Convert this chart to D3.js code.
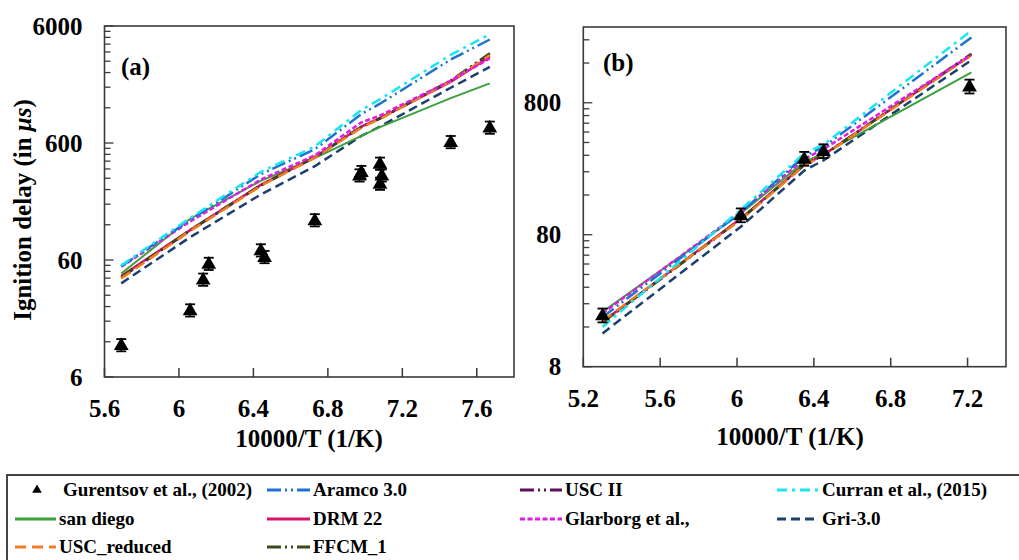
<!DOCTYPE html>
<html><head><meta charset="utf-8">
<script src="https://cdn.jsdelivr.net/npm/d3@7"></script>
<style>
body{margin:0;background:#fff}
svg{display:block}
text{font-family:"Liberation Serif","Times New Roman",serif;font-weight:bold;fill:#000}
</style>
</head><body>
<svg id="c" width="1019" height="560"></svg>
<script>
// ---------- DATA ----------
const seriesNames = ["Aramco 3.0","USC II","Curran et al., (2015)","san diego","DRM 22","Glarborg et al.,","Gri-3.0","USC_reduced","FFCM_1"];
const expName = "Gurentsov et al., (2002)";

// Panel (a)
const expA_x = [5.69,6.06,6.13,6.16,6.44,6.46,6.73,6.97,6.98,7.08,7.09,7.08,7.46,7.67];
const expA_y = [11.3,22.4,41,56,73,64,132,319,341,402,319,271,615,817];
const simA_x = [5.69,6.06,6.44,6.73,6.98,7.08,7.46,7.67];
const aramcoA   = [53,132,325,530,1060,1300,3100,4600];
const uscIIA    = [42.5,107,260,452,820,970,2040,3480];
const curranA   = [54,137,340,560,1150,1420,3400,5100];
const sandiegoA = [46,135,285,445,690,820,1450,1940];
const drmA      = [43.8,108,263,455,830,980,2000,3280];
const glarborgA = [52.5,128,292,470,900,1030,2050,3170];
const griA      = [37.9,94,218,380,690,830,1780,2680];
const uscRedA   = [41.8,106,258,450,810,965,2020,3380];
const ffcmA     = [43,108,262,455,825,975,2050,3500];

// Panel (b)
const expB_x = [5.30,6.02,6.35,6.45,7.21];
const expB_y = [19.7,113,303,346,1069];
const simB_x = [5.30,6.02,6.35,6.45,7.22];
const aramcoB   = [19,118,315,370,2500];
const uscIIB    = [17.4,105,270,321,1870];
const curranB   = [16,124,330,385,2820];
const sandiegoB = [20.8,116,285,330,1360];
const drmB      = [17.5,106,272,322,1850];
const glarborgB = [20.3,119,300,355,1850];
const griB      = [14.3,92,245,293,1680];
const uscRedB   = [17.8,104,268,318,1830];
const ffcmB     = [17.3,105,270,320,1880];

// Axis ticks
const xTicksA = [5.6,6,6.4,6.8,7.2,7.6];
const yTicksA = [6,60,600,6000];
const xTicksB = [5.2,5.6,6,6.4,6.8,7.2];
const yTicksB = [8,80,800];
const xTitle = "10000/T (1/K)";

// ---------- STYLES ----------
const styles = {
  "Aramco 3.0":           {color:"#1e73d2", dash:"14,4,2,4,2,4", w:2.5},
  "USC II":               {color:"#5a0f5f", dash:"14,4,2,4,2,4", w:2.5},
  "Curran et al., (2015)":{color:"#17e6f0", dash:"10,5,3,5", w:2.5},
  "san diego":            {color:"#3ca03c", dash:null, w:2},
  "DRM 22":               {color:"#d7136e", dash:null, w:2.5},
  "Glarborg et al.,":     {color:"#e11ae6", dash:"5,2.5", w:2.5},
  "Gri-3.0":              {color:"#1b3f6e", dash:"9,5", w:2.5},
  "USC_reduced":          {color:"#f07c23", dash:"11,6", w:2.5},
  "FFCM_1":               {color:"#3a4a1c", dash:"14,4,2,4,2,4", w:2.5}
};
const drawOrder = ["Gri-3.0","san diego","DRM 22","USC II","FFCM_1","USC_reduced","Glarborg et al.,","Aramco 3.0","Curran et al., (2015)"];

const svg = d3.select("#c");

function panel(cfg){
  const {x,y,xTicks,yTicks,simX,sims,expX,expY,label,labelPos,minorBase,xTitleX} = cfg;
  const [x0,x1] = x.range(), [y0,y1] = y.range();
  const g = svg.append("g");
  // frame
  g.append("rect").attr("x",x0).attr("y",y1).attr("width",x1-x0).attr("height",y0-y1)
    .attr("fill","none").attr("stroke","#3a3a3a").attr("stroke-width",1.6);
  // x ticks (inside)
  xTicks.forEach(t=>{
    g.append("line").attr("x1",x(t)).attr("x2",x(t)).attr("y1",y0).attr("y2",y0-9)
      .attr("stroke","#3a3a3a").attr("stroke-width",1.5);
    g.append("text").attr("x",x(t)).attr("y",y0+40).attr("text-anchor","middle")
      .attr("font-size",25).text(d3.format("")(t));
  });
  // y ticks major + minor
  const [dmin,dmax] = y.domain();
  for(let dec=dmin; dec<dmax*1.0001; dec*=10){
    for(let k=1;k<=9;k++){
      const v = dec*k;
      if(v>dmax*1.0001) break;
      const major = k===1;
      g.append("line").attr("x1",x0).attr("x2",x0+(major?9:6)).attr("y1",y(v)).attr("y2",y(v))
        .attr("stroke","#3a3a3a").attr("stroke-width",1.3);
    }
  }
  yTicks.forEach(t=>{
    g.append("text").attr("x",x0-22).attr("y",y(t)).attr("dy","0.34em").attr("text-anchor","end")
      .attr("font-size",25).text(t);
  });
  // lines
  const line = d3.line().x((d)=>x(d[0])).y((d)=>y(d[1]));
  drawOrder.forEach(name=>{
    const st = styles[name];
    const pts = simX.map((xv,i)=>[xv, sims[name][i]]);
    g.append("path").attr("d",line(pts)).attr("fill","none")
      .attr("stroke",st.color).attr("stroke-width",st.w)
      .attr("stroke-dasharray",st.dash).attr("stroke-linecap","butt");
  });
  // experimental points with error bars
  const tri = d3.symbol().type(d3.symbolTriangle).size(95);
  expX.forEach((xv,i)=>{
    const v = expY[i];
    const px = x(xv), lo = y(v*0.88), hi = y(v*1.12);
    g.append("line").attr("x1",px).attr("x2",px).attr("y1",lo).attr("y2",hi).attr("stroke","#000").attr("stroke-width",1.5);
    [lo,hi].forEach(yy=>g.append("line").attr("x1",px-5).attr("x2",px+5).attr("y1",yy).attr("y2",yy).attr("stroke","#000").attr("stroke-width",1.8));
    g.append("path").attr("d",tri()).attr("transform",`translate(${px},${y(v)+1})`).attr("fill","#000");
  });
  // panel label
  g.append("text").attr("x",labelPos[0]).attr("y",labelPos[1]).attr("font-size",25).text(label);
  // x title
  g.append("text").attr("x",xTitleX).attr("y",cfg.xTitleY).attr("text-anchor","middle").attr("font-size",25).text(xTitle);
}

const simsA = {"Aramco 3.0":aramcoA,"USC II":uscIIA,"Curran et al., (2015)":curranA,"san diego":sandiegoA,
  "DRM 22":drmA,"Glarborg et al.,":glarborgA,"Gri-3.0":griA,"USC_reduced":uscRedA,"FFCM_1":ffcmA};
const simsB = {"Aramco 3.0":aramcoB,"USC II":uscIIB,"Curran et al., (2015)":curranB,"san diego":sandiegoB,
  "DRM 22":drmB,"Glarborg et al.,":glarborgB,"Gri-3.0":griB,"USC_reduced":uscRedB,"FFCM_1":ffcmB};

panel({
  x: d3.scaleLinear().domain([5.6,7.8]).range([104.5,514]),
  y: d3.scaleLog().domain([6,6000]).range([377,26]),
  xTicks:xTicksA, yTicks:yTicksA, simX:simA_x, sims:simsA, expX:expA_x, expY:expA_y,
  label:"(a)", labelPos:[121,75], xTitleX:309, xTitleY:447
});
panel({
  x: d3.scaleLinear().domain([5.2,7.4]).range([583.3,1006]),
  y: d3.scaleLog().domain([8,3000]).range([366.7,27]),
  xTicks:xTicksB, yTicks:yTicksB, simX:simB_x, sims:simsB, expX:expB_x, expY:expB_y,
  label:"(b)", labelPos:[603,71], xTitleX:790, xTitleY:445
});

// y axis title
svg.append("text").attr("transform","translate(31,210) rotate(-90)").attr("text-anchor","middle")
  .attr("font-size",25)
  .call(t=>{ t.append("tspan").text("Ignition delay (in ");
             t.append("tspan").attr("font-style","italic").text("μs");
             t.append("tspan").text(")"); });

// ---------- LEGEND ----------
const lg = svg.append("g");
lg.append("rect").attr("x",7).attr("y",475).attr("width",1030).attr("height",120)
  .attr("fill","none").attr("stroke","#444").attr("stroke-width",2);
const rows = [490,519,547];
const legendItems = [
  {name:expName, col:0, row:0, marker:true},
  {name:"Aramco 3.0", col:1, row:0},
  {name:"USC II", col:2, row:0},
  {name:"Curran et al., (2015)", col:3, row:0},
  {name:"san diego", col:0, row:1},
  {name:"DRM 22", col:1, row:1},
  {name:"Glarborg et al.,", col:2, row:1},
  {name:"Gri-3.0", col:3, row:1},
  {name:"USC_reduced", col:0, row:2},
  {name:"FFCM_1", col:1, row:2}
];
const colLine = [[15,56],[267,310],[520,562],[777,819]];
legendItems.forEach(it=>{
  const yy = rows[it.row];
  if(it.marker){
    lg.append("path").attr("d",d3.symbol().type(d3.symbolTriangle).size(40)()).attr("transform",`translate(37,${yy})`).attr("fill","#000");
    lg.append("text").attr("x",63).attr("y",yy+6).attr("font-size",19).text(it.name);
  } else {
    const st = styles[it.name];
    const [a,b] = colLine[it.col];
    lg.append("line").attr("x1",a).attr("x2",b).attr("y1",yy).attr("y2",yy)
      .attr("stroke",st.color).attr("stroke-width",3).attr("stroke-dasharray",st.dash);
    lg.append("text").attr("x",b+3).attr("y",yy+6).attr("font-size",19).text(it.name);
  }
});
</script>
</body></html>
